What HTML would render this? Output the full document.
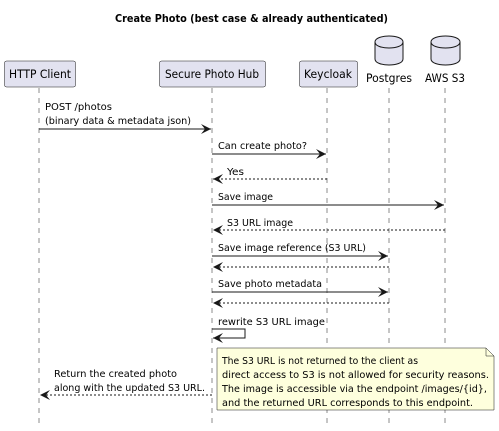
<!DOCTYPE html>
<html><head><meta charset="utf-8"><style>
html,body{margin:0;padding:0;background:#fff;}
svg{display:block;font-family:"DejaVu Sans","Liberation Sans",sans-serif;}
</style></head><body>
<svg width="499" height="431" viewBox="0 0 499 431" xmlns="http://www.w3.org/2000/svg">
<defs>
<marker id="a" viewBox="0 0 10 10" refX="10" refY="5" markerWidth="10" markerHeight="10" orient="auto" markerUnits="userSpaceOnUse"><path d="M0,0 L10,5 L0,10 L4,5 Z" fill="#181818"/></marker>
</defs>
<text x="115" y="22" font-size="11" font-weight="bold" fill="#000" textLength="273" lengthAdjust="spacingAndGlyphs">Create Photo (best case &amp; already authenticated)</text>
<g stroke="#181818" stroke-width="0.5" stroke-dasharray="5,5">
<line x1="39" y1="88" x2="39" y2="428"/>
<line x1="212" y1="88" x2="212" y2="428"/>
<line x1="327" y1="88" x2="327" y2="428"/>
<line x1="389" y1="88" x2="389" y2="428"/>
<line x1="445" y1="88" x2="445" y2="428"/>
</g>
<g fill="#E2E2F0" stroke="#181818" stroke-width="0.5">
<rect x="4.5" y="61" width="71" height="26" rx="2"/>
<rect x="159.5" y="61" width="106" height="26" rx="2"/>
<rect x="299.5" y="61" width="58" height="26" rx="2"/>
</g>
<g font-size="11.5" fill="#000" text-anchor="middle">
<text x="40" y="78" textLength="62" lengthAdjust="spacingAndGlyphs">HTTP Client</text>
<text x="212" y="78" textLength="94" lengthAdjust="spacingAndGlyphs">Secure Photo Hub</text>
<text x="328" y="78" textLength="48" lengthAdjust="spacingAndGlyphs">Keycloak</text>
<text x="389" y="82" textLength="46" lengthAdjust="spacingAndGlyphs">Postgres</text>
<text x="445" y="82" textLength="40" lengthAdjust="spacingAndGlyphs">AWS S3</text>
</g>
<g fill="#E2E2F0" stroke="#181818" stroke-width="1">
<path d="M375,42 C375,34 403,34 403,42 L403,59 C403,67 375,67 375,59 Z"/>
<path d="M375,42 C375,50 403,50 403,42" fill="none"/>
<path d="M431,42 C431,34 460,34 460,42 L460,59 C460,67 431,67 431,59 Z"/>
<path d="M431,42 C431,50 460,50 460,42" fill="none"/>
</g>
<g font-size="10" fill="#000">
<text x="45" y="110" textLength="67" lengthAdjust="spacingAndGlyphs">POST /photos</text>
<text x="45" y="124" textLength="146" lengthAdjust="spacingAndGlyphs">(binary data &amp; metadata json)</text>
<text x="218" y="149" textLength="89" lengthAdjust="spacingAndGlyphs">Can create photo?</text>
<text x="227" y="175" textLength="17" lengthAdjust="spacingAndGlyphs">Yes</text>
<text x="218" y="200" textLength="55" lengthAdjust="spacingAndGlyphs">Save image</text>
<text x="227" y="226" textLength="66" lengthAdjust="spacingAndGlyphs">S3 URL image</text>
<text x="218" y="251" textLength="148" lengthAdjust="spacingAndGlyphs">Save image reference (S3 URL)</text>
<text x="218" y="287" textLength="104" lengthAdjust="spacingAndGlyphs">Save photo metadata</text>
<text x="218" y="325" textLength="107" lengthAdjust="spacingAndGlyphs">rewrite S3 URL image</text>
<text x="54" y="377" textLength="123" lengthAdjust="spacingAndGlyphs">Return the created photo</text>
<text x="54" y="391" textLength="151" lengthAdjust="spacingAndGlyphs">along with the updated S3 URL.</text>
</g>
<g stroke="#181818" stroke-width="1" fill="none">
<line x1="39" y1="129" x2="211" y2="129" marker-end="url(#a)"/>
<line x1="212" y1="154" x2="326" y2="154" marker-end="url(#a)"/>
<line x1="327" y1="179" x2="213" y2="179" stroke-dasharray="2,2" marker-end="url(#a)"/>
<line x1="212" y1="205" x2="444" y2="205" marker-end="url(#a)"/>
<line x1="445" y1="230" x2="213" y2="230" stroke-dasharray="2,2" marker-end="url(#a)"/>
<line x1="212" y1="256" x2="388" y2="256" marker-end="url(#a)"/>
<line x1="389" y1="267" x2="213" y2="267" stroke-dasharray="2,2" marker-end="url(#a)"/>
<line x1="212" y1="292" x2="388" y2="292" marker-end="url(#a)"/>
<line x1="389" y1="303" x2="213" y2="303" stroke-dasharray="2,2" marker-end="url(#a)"/>
<polyline points="212,329 245,329 245,338 213,338" marker-end="url(#a)"/>
<line x1="212" y1="395" x2="40" y2="395" stroke-dasharray="2,2" marker-end="url(#a)"/>
</g>
<path d="M217,348 L486,348 L494,356 L494,410 L217,410 Z" fill="#FEFFDD" stroke="#181818" stroke-width="0.5"/>
<path d="M486,348 L486,356 L494,356" fill="none" stroke="#181818" stroke-width="0.5"/>
<g font-size="10" fill="#000">
<text x="222" y="364" textLength="196" lengthAdjust="spacingAndGlyphs">The S3 URL is not returned to the client as</text>
<text x="222" y="378" textLength="267" lengthAdjust="spacingAndGlyphs">direct access to S3 is not allowed for security reasons.</text>
<text x="222" y="392" textLength="265" lengthAdjust="spacingAndGlyphs">The image is accessible via the endpoint /images/{id},</text>
<text x="222" y="406" textLength="251" lengthAdjust="spacingAndGlyphs">and the returned URL corresponds to this endpoint.</text>
</g>
</svg>
</body></html>
